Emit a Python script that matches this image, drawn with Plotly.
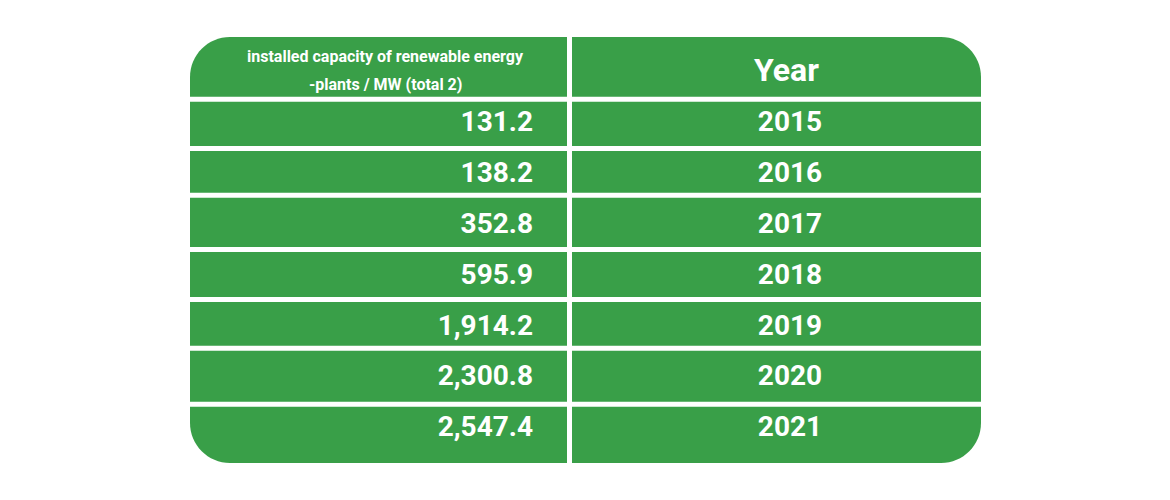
import plotly.graph_objects as go

# ---- data ----
header_capacity = ["installed capacity of renewable energy", "-plants / MW (total 2)"]
header_year = "Year"
years = [2015, 2016, 2017, 2018, 2019, 2020, 2021]
capacity_mw = [131.2, 138.2, 352.8, 595.9, 1914.2, 2300.8, 2547.4]

# ---- geometry / style ----
W, H = 1170, 500
PAGE_MARGIN = 8  # default body margin of the html page
GREEN = "rgb(57,159,72)"
FONT = "Roboto"
col_left = (190, 567)
col_right = (572, 981)
# row edges (top, bottom): header then data rows
row_edges = [(37, 96.7), (101.7, 146), (151, 192.7), (197.7, 247), (252, 297),
             (302, 345.7), (350.7, 401.7), (406.7, 463)]
R = 40
text_y0, text_dy = 124.3, 50.8
num_right = 533
year_center = 790

def rect_path(x0, x1, y0, y1, tl=0, tr=0, br=0, bl=0):
    k = 0.5523
    p = f"M {x0 + tl},{y0} L {x1 - tr},{y0} "
    if tr:
        p += f"C {x1 - tr + k*tr},{y0} {x1},{y0 + tr - k*tr} {x1},{y0 + tr} "
    p += f"L {x1},{y1 - br} "
    if br:
        p += f"C {x1},{y1 - br + k*br} {x1 - br + k*br},{y1} {x1 - br},{y1} "
    p += f"L {x0 + bl},{y1} "
    if bl:
        p += f"C {x0 + bl - k*bl},{y1} {x0},{y1 - bl + k*bl} {x0},{y1 - bl} "
    p += f"L {x0},{y0 + tl} "
    if tl:
        p += f"C {x0},{y0 + tl - k*tl} {x0 + tl - k*tl},{y0} {x0 + tl},{y0} "
    return p + "Z"

shapes = []
n = len(row_edges)
for i, (y0, y1) in enumerate(row_edges):
    first, last = i == 0, i == n - 1
    shapes.append(dict(type="path", xref="x", yref="y", line_width=0, fillcolor=GREEN, layer="below",
                       path=rect_path(col_left[0], col_left[1], y0, y1,
                                      tl=R if first else 0, bl=R if last else 0)))
    shapes.append(dict(type="path", xref="x", yref="y", line_width=0, fillcolor=GREEN, layer="below",
                       path=rect_path(col_right[0], col_right[1], y0, y1,
                                      tr=R if first else 0, br=R if last else 0)))

text_ys = [text_y0 + text_dy * i for i in range(len(years))]

fig = go.Figure()
fig.add_trace(go.Scatter(
    x=[num_right] * len(capacity_mw), y=text_ys, mode="text",
    text=[f"{v:,.1f}" for v in capacity_mw], textposition="middle left",
    textfont=dict(family=FONT, size=28, color="white", weight="bold"),
    hoverinfo="skip", showlegend=False, cliponaxis=False))
fig.add_trace(go.Scatter(
    x=[year_center] * len(years), y=text_ys, mode="text",
    text=[str(y) for y in years], textposition="middle center",
    textfont=dict(family=FONT, size=28, color="white", weight="bold"),
    hoverinfo="skip", showlegend=False, cliponaxis=False))

annotations = [
    dict(x=385, y=56, text=header_capacity[0], showarrow=False, xref="x", yref="y",
         font=dict(family=FONT, size=16, color="white", weight="bold"), xanchor="center", yanchor="middle"),
    dict(x=385, y=84.5, text=header_capacity[1], showarrow=False, xref="x", yref="y",
         font=dict(family=FONT, size=16, color="white", weight="bold"), xanchor="center", yanchor="middle"),
    dict(x=786, y=69.5, text=header_year, showarrow=False, xref="x", yref="y",
         font=dict(family=FONT, size=32, color="white", weight="bold"), xanchor="center", yanchor="middle"),
]

m = PAGE_MARGIN
fig.update_layout(
    width=W - m, height=H - m, margin=dict(l=0, r=0, t=0, b=0),
    paper_bgcolor="white", plot_bgcolor="white",
    xaxis=dict(range=[m, W], visible=False, fixedrange=True),
    yaxis=dict(range=[H, m], visible=False, fixedrange=True),
    shapes=shapes, annotations=annotations, showlegend=False,
)
fig.write_html("out.html", config={"displayModeBar": False})
